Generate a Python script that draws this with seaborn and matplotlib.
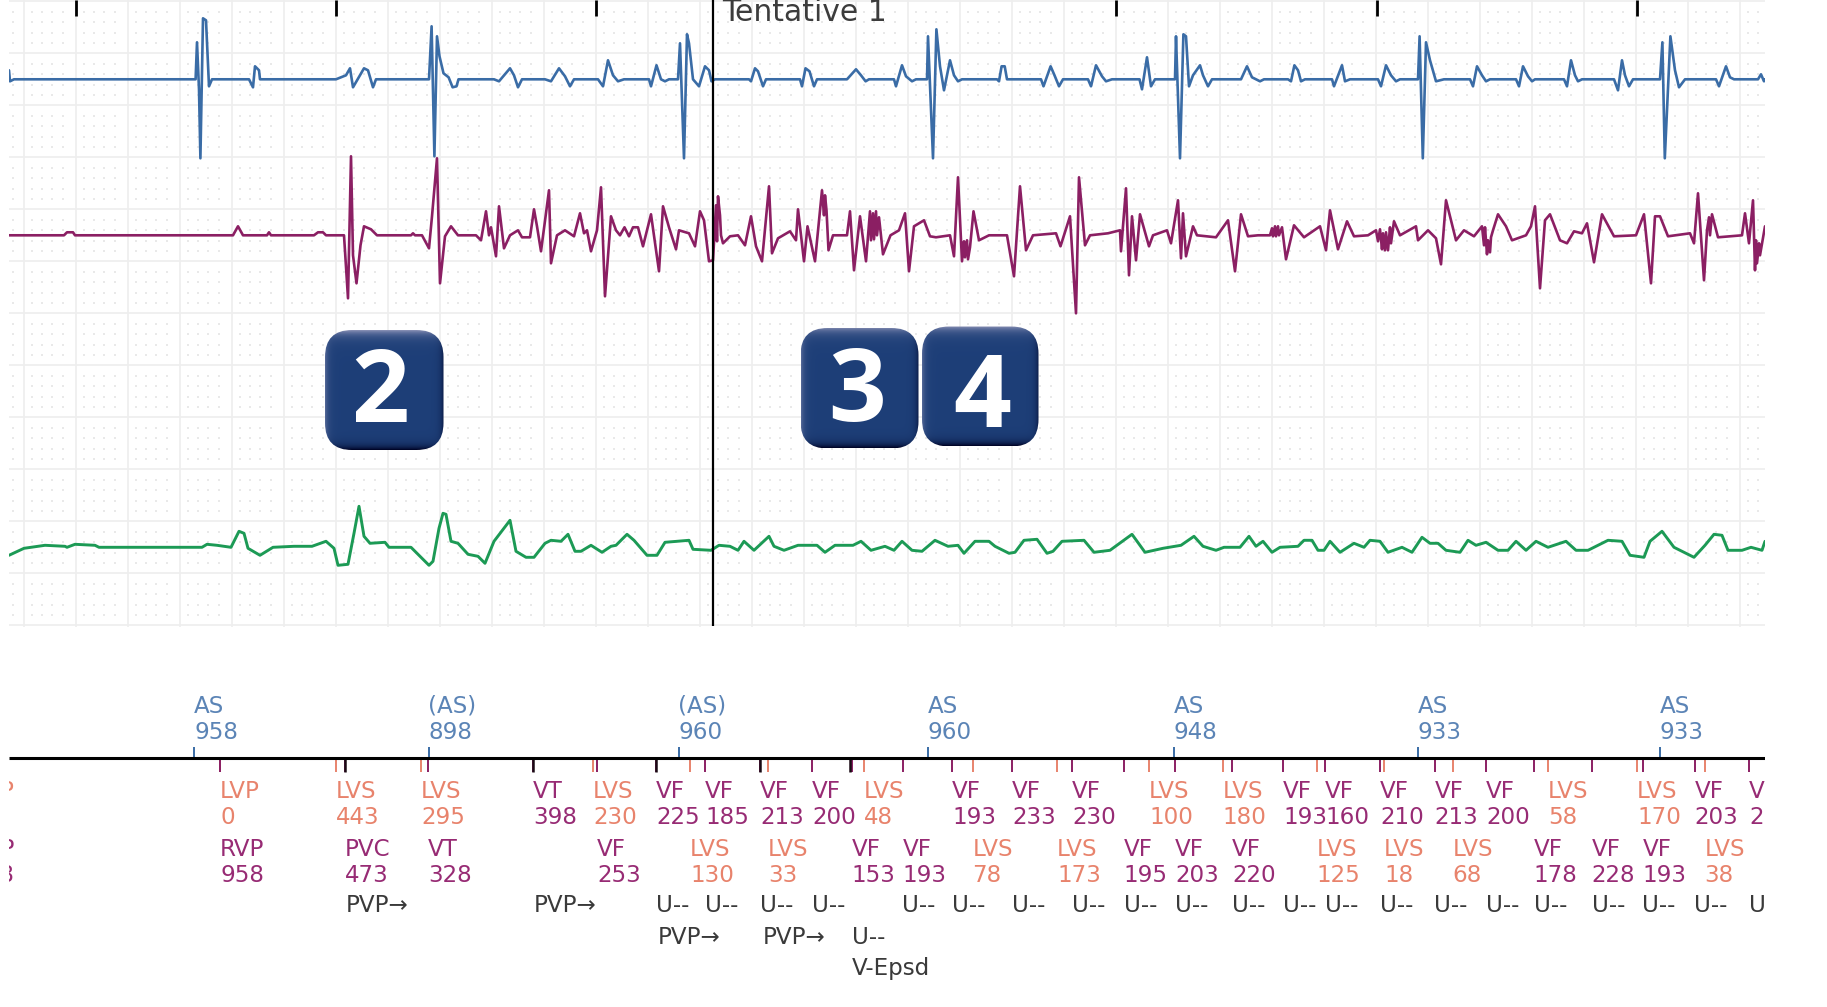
"""Device EGM strip with marker channel annotations."""

import matplotlib.pyplot as plt
import numpy as np
import pandas as pd
import seaborn as sns
from matplotlib.patches import FancyBboxPatch

# x values are samples along the strip, trace values are deflection from baseline
blue_trace = [
    (9, 9), (10, -2), (14, 0), (195.6, 0), (197, 37), (199, -10), (200.4, -79), (203, 61), (206, 59), (209, -7), (212, 0),
    (249, 0), (253, -8), (255, 13), (259, 9), (260, 0), (336, 0), (346, 4), (350, 11), (353, -8), (364, 11), (368, 9),
    (373, -8), (376, 0), (429, 0), (431.6, 53), (434.4, -77), (437, 43), (439.5, 23), (443.5, 6), (448.6, 2), (452.6, -8),
    (456.5, -7), (458.5, 0), (494, 0), (499, -2), (510, 11), (514, 4), (518, -8), (522, 0), (545, 0), (551, -2), (559, 11),
    (565, 3), (570, -7), (574, 0), (598, 0), (603, -7), (608, 19), (613, 4), (618, -2), (624, 0), (649, 0), (651, -7),
    (656.5, 14), (661, 0), (665, -2), (669, 0), (678, 0), (680, 36), (684, -79), (687, 45), (689, 36), (693, 0), (699, -7),
    (705, 13), (709, 9), (711.5, -2), (715, 0), (749, 0), (751, -2), (755, 11), (758, 8), (763, -7), (766, 0), (800, 0),
    (802, -7), (805.5, 11), (809.5, 8), (814, -7), (817, 0), (847, 0), (856, 10), (861, 4), (865.6, -2), (869, 0), (894, 0),
    (896, -7), (902, 14), (906, 3), (912, -2), (916, 0), (927, 0), (928, 43), (933, -79), (936.4, 50), (940, 13), (944, -11),
    (950, 19), (954, 4), (958, -2), (962, 0), (997, 0), (999, -2), (1001.6, 13), (1004.7, 13), (1007, 0), (1041, 0),
    (1043.5, -7), (1050.6, 13), (1054.5, 4), (1059, -7), (1063, 0), (1088, 0), (1091, -7), (1096, 14), (1102, 3), (1106, -2),
    (1112, 0), (1139.5, 0), (1142, -10), (1147, 22), (1151, -7), (1155, 0), (1175, 0), (1176, 43), (1180, -79), (1183.4, 45),
    (1186, 43), (1189, -7), (1193, 4), (1200, 14), (1203, 4), (1208, -7), (1212, 0), (1241, 0), (1247, 13), (1252, 2),
    (1260, -2), (1264, 0), (1288, 0), (1291, -2), (1294.4, 14), (1298, 9), (1301, -2), (1305, 0), (1332, 0), (1334, -7),
    (1342, 14), (1345, -2), (1350, 0), (1378, 0), (1381, -7), (1386, 14), (1391, 4), (1396, -2), (1400, 0), (1418, 0),
    (1419.6, 43), (1422.8, -79), (1426, 37), (1430, 19), (1436, -2), (1444, 0), (1470, 0), (1473, -7), (1477, 13), (1482, 4),
    (1486, -2), (1490, 0), (1516, 0), (1519, -7), (1523, 13), (1528, 3), (1532, -2), (1535, 0), (1564, 0), (1567, -7),
    (1571, 19), (1575, 4), (1578, -2), (1582, 0), (1614, 0), (1618, -11), (1622, 19), (1625, 4), (1629, -7), (1633, 0),
    (1660, 0), (1662.4, 37), (1664.8, -79), (1670.4, 43), (1675, 9), (1679, -8), (1685, 0), (1716, 0), (1719, -7), (1726, 13),
    (1730, 2), (1734, 0), (1758, 0), (1761, 5), (1764, -2), (1765, 0),
]
maroon_trace = [
    (9, 0), (64, 0), (67, 3), (73, 3), (75, 0), (233, 0), (238, 9), (243, 0), (267, 0), (269, 3), (271, 0), (314, 0), (318, 3),
    (323, 3), (326, 0), (344, 0), (348, -63), (351, 79), (353, -20), (356.5, -48), (360.5, -10), (364, 9), (371, 6), (377, 0),
    (411, 0), (413, 2), (415, 0), (422, 0), (429, -13), (432, 19), (437, 77), (440, -48), (445, -1), (451, 9), (458, 0),
    (476, 0), (481, -5), (486, 24), (489, 0), (491, 8), (496, -21), (499, 29), (504, -13), (510, 0), (518, 5), (522, -2),
    (530, -2), (534, 26), (537, 9), (541, -16), (549, 45), (551, -28), (557, 0), (565, 5), (574, -1), (580, 22), (584, 2),
    (587, 5), (591, -16), (597, 5), (601, 48), (605, -61), (611, 19), (616, 5), (620, 0), (624.5, 8), (629, -1), (633, 8),
    (638, 8), (643, -11), (651, 21), (659, -36), (663, 29), (669, 8), (676, -14), (679, 5), (689, 2), (695, -11), (700, 24),
    (704, 15), (709, -26), (713, -25), (716, 30), (717, -6), (718, 39), (720, 20), (721, 0), (723, -8), (730, -1), (738, 0),
    (745, -10), (751, 19), (756, -11), (762, -26), (769, 49), (772, -18), (778, -3), (790, 4), (796, -5), (798, 26), (804, -26),
    (807.5, 9), (815, -26), (822, 45), (824, 20), (825, 40), (826.5, 25), (828.5, -15),
    (833, 0), (847, 0), (850, 24), (854, -35), (860, 19), (866, -26), (870, 24), (871, -5), (873, 22), (874, -4), (876, 24),
    (877, 0), (879, 18), (883, -19), (890.5, 0), (899, 5),
    (905, 22), (909, -36), (914, 9), (924, 15), (930, -1), (936, -2), (950, 0), (954, -21), (958, 58), (962, -26), (964, -6),
    (965, -22), (967, -5), (968, -24), (970, -12),
    (973.5, 24), (979, -5), (989, 0), (1007, 0), (1014, -41), (1020, 49), (1026, -15), (1033, 0), (1056, 2), (1060.5, -11),
    (1070, 19), (1076, -78), (1079, 58), (1085, -10), (1090, 0), (1108, 2), (1120, 5), (1121, -16), (1126, 47), (1129, -40),
    (1132, 19), (1136, -25), (1140, 21), (1149, -11), (1153, 0), (1167, 5), (1171, -8), (1178, 35), (1181, -23), (1183, 22),
    (1186, -21), (1193, 9), (1197, 0), (1216, -2), (1228, 15), (1235, -36), (1241, 21), (1248, -1), (1258, 0), (1270, 0),
    (1272, 7), (1273, -1), (1275, 9), (1276, -1), (1278, 9), (1279, 0), (1282, 8), (1286, -24), (1294, 10), (1304, -2), (1320, 9),
    (1326, -15), (1330, 25), (1338, -14), (1347, 14),
    (1354, -1), (1368, 0), (1376, 5), (1378, -6), (1380, 6), (1382, -14), (1383, 2), (1385, -15), (1386, 3), (1388, -15),
    (1390, 8), (1391, -8), (1394, 14), (1400, 0), (1416, 9), (1418, -5), (1428, 5),
    (1436, -3), (1441, -29), (1446, 35), (1456, -5), (1464, 5), (1474, -1), (1482, 9), (1484, -10), (1485, 8), (1487, -19),
    (1488, -5), (1490, -17), (1491, -2), (1493, 5), (1498, 21), (1506, 9),
    (1512, -5), (1526, 0), (1531, 9), (1535, 29), (1540, -53), (1545, 15), (1550, 21), (1560, -5), (1567, -8), (1574, 4),
    (1582, 2), (1587, 12), (1594, -27), (1602, 21), (1614, -1), (1636, 0), (1644, 21), (1651, -48), (1655, 19), (1660, 19),
    (1668, -1), (1690, 2), (1694, -8), (1698, 42), (1704, -45), (1707, 5), (1709, 18), (1710, 0), (1712, 21), (1718, -2),
    (1742, 0), (1745, 22), (1749, -8),
    (1753, 35), (1755, -35), (1756, -5), (1757, -28), (1759, -8), (1760, -20), (1765, 9),
]
green_trace = [
    (9, -8), (24, -1), (45, 2), (65, 1), (67, 0), (75, 3), (95, 2), (99, 0), (202, 0), (207, 3), (217, 2), (231, 0), (239, 16),
    (244, 14), (248, -1), (260, -8), (273, 0), (294, 1), (312, 1), (326, 6), (334, -1), (338, -18), (348, -17), (354, 14),
    (359, 41), (364, 11), (370, 4), (385, 5), (389, 0), (411, 0), (429, -18), (433, -14), (439, 19), (443, 34), (446, 33),
    (451, 6), (458, 4), (468, -7), (478, -9), (485, -16), (494, 6), (510, 27), (516, -4), (526, -10), (534, -10), (545, 4),
    (551, 7), (561, 6), (568, 13), (575, -4), (581, -4), (591, 2), (602, -5), (611, 1), (616, 2), (627, 13), (634, 7),
    (647, -8), (657, -8), (665, 5), (689, 7), (693, -2), (711, -3), (719, 2), (730, 1), (738, -3), (744, 6), (754, -3),
    (769, 11), (774, 1), (784, -3), (798, 2), (817, 2), (825, -5), (835, 2), (853, 2), (861, 6), (871, -3), (885, 1), (894, -3),
    (902, 6), (912, -3), (922, -4), (935, 7), (948, 1), (958, 2), (964, -6), (975, 6), (989, 6), (995, 1), (1009, -6), (1015, -5),
    (1024, 7), (1037, 8), (1047, -6), (1053, -4), (1062, 6), (1084, 7), (1094, -5), (1110, -3), (1132, 13), (1145, -5), (1163, -1),
    (1181, 2), (1194, 11), (1203, 1), (1216, -3), (1224, 0), (1240, 0), (1249, 11), (1256, 1), (1263, 6), (1272, -5), (1280, 0),
    (1298, 1), (1304, 7), (1312, 7), (1318, -3), (1324, -3), (1330, 6), (1340, -5), (1354, 4), (1364, 0), (1370, 7), (1380, 6),
    (1388, -5), (1402, 0), (1412, -5), (1422, 10), (1430, 4), (1438, 4), (1446, -3), (1460, -5), (1468, 7), (1476, 2), (1486, 5),
    (1498, -3), (1508, -3), (1516, 6), (1526, -3), (1536, 6), (1548, 0), (1566, 6), (1576, -3), (1588, -3), (1608, 7), (1622, 6),
    (1630, -8), (1644, -10), (1650, 6), (1662, 16), (1674, 0), (1694, -10), (1705, 2), (1714, 13), (1722, 12), (1728, -3),
    (1742, -3), (1751, 0), (1762, -3), (1765, 6),
]

atrial_x = [194, 428.5, 678.5, 927.5, 1173.5, 1417.5, 1659.5]
atrial_names = ["AS", "(AS)", "(AS)", "AS", "AS", "AS", "AS"]
atrial_vals = [958, 898, 960, 960, 948, 933, 933]

row1_x = [-25, 220, 336, 421, 533, 593, 656, 705, 760, 812, 864, 952, 1012, 1072, 1149, 1222.5, 1283, 1325, 1380, 1434.5, 1486, 1548, 1637, 1694.5, 1749]
row1_names = ["LVP", "LVP", "LVS", "LVS", "VT", "LVS", "VF", "VF", "VF", "VF", "LVS", "VF", "VF", "VF", "LVS", "LVS", "VF", "VF", "VF", "VF", "VF", "LVS", "LVS", "VF", "VF"]
row1_vals = [0, 0, 443, 295, 398, 230, 225, 185, 213, 200, 48, 193, 233, 230, 100, 180, 193, 160, 210, 213, 200, 58, 170, 203, 213]

row2_x = [-29, 220, 344.5, 428, 597, 690, 768, 851.5, 902.5, 972.5, 1057, 1123.5, 1175, 1232, 1316.5, 1384, 1452.5, 1533.5, 1591.5, 1642.5, 1704.5]
row2_names = ["RVP", "RVP", "PVC", "VT", "VF", "LVS", "LVS", "VF", "VF", "LVS", "LVS", "VF", "VF", "VF", "LVS", "LVS", "LVS", "VF", "VF", "VF", "LVS"]
row2_vals = [958, 958, 473, 328, 253, 130, 33, 153, 193, 78, 173, 195, 203, 220, 125, 18, 68, 178, 228, 193, 38]

row3_x = [345.5, 534, 656, 705, 760, 812, 902.5, 952, 1012, 1072, 1123.5, 1175, 1232, 1283, 1325, 1380, 1434.5, 1486, 1534, 1592, 1642.5, 1694.5, 1749]
row3_text = ["PVP→", "PVP→", "U--", "U--", "U--", "U--", "U--", "U--", "U--", "U--", "U--", "U--", "U--", "U--", "U--", "U--", "U--", "U--", "U--", "U--", "U--", "U--", "U--"]
row4_x = [658, 763, 852]
row4_text = ["PVP→", "PVP→", "U--"]
row5_x = [852]
row5_text = ["V-Epsd"]

BLUE, MAROON, GREEN = "#3a6ca6", "#8b1f63", "#1c9a55"
MAROON_TEXT, SALMON, GREY = "#972b74", "#e8836c", "#3a3a3a"
BADGES = [("2", 325, 443.5, 330, 450, 422.3, 380), ("3", 800.5, 918.5, 328, 448.5, 421, 857), ("4", 922, 1038.5, 326.5, 446.5, 426.7, 982)]

sns.set_theme(style="white")
plt.rcParams["font.family"] = ["DejaVu Sans"]

W, H = 1827, 1007
fig = plt.figure(figsize=(W / 100, H / 100), dpi=100, facecolor="white")
strip = fig.add_axes([9 / W, 1 - 627 / H, (1765 - 9) / W, 627 / H])
events = fig.add_axes([9 / W, 0, (1765 - 9) / W, (H - 640) / H])


def trace_frame(points, baseline):
    df = pd.DataFrame(points, columns=["sample", "amp"])
    df["y"] = baseline - df["amp"]
    return df


# ── ECG paper ─────────────────────────────────────────────────────────────────
major_x = 23.7 + 52 * np.arange(34)
major_y = 1.3 + 52 * np.arange(13)
strip.set_xticks(major_x)
strip.set_yticks(major_y)
strip.grid(True, color="#eeeeee", linewidth=1.2)
strip.tick_params(length=0, labelbottom=False, labelleft=False)
sns.despine(ax=strip, left=True, bottom=True)
sns.despine(ax=events, left=True, bottom=True)

dx = (major_x[:, None] + np.array([8, 18.3, 28.6, 38.9])).ravel()
dx = np.concatenate([dx, [13]])
dy = (major_y[:-1, None] + np.array([10.4, 20.8, 31.2, 41.6])).ravel()
gx, gy = np.meshgrid(dx, dy)
strip.scatter(gx.ravel(), gy.ravel(), s=3.6, marker="s", color="#e9e9e9", linewidths=0, zorder=1)

# ── Traces ────────────────────────────────────────────────────────────────────
for points, baseline, color, lw in [(blue_trace, 79.3, BLUE, 1.9), (maroon_trace, 235.3, MAROON, 1.9), (green_trace, 547.3, GREEN, 2.1)]:
    sns.lineplot(data=trace_frame(points, baseline), x="sample", y="y", estimator=None, sort=False,
                 color=color, linewidth=lw, ax=strip, zorder=3)
strip.set(xlabel="", ylabel="")

strip.vlines(712.6, 0, 625.5, color="black", linewidth=1.6, zorder=4)
strip.vlines([75.7, 335.7, 595.7, 1115.7, 1376.7, 1636.7], 0, 16, color="black", linewidth=2, zorder=4)
strip.text(722.5, 21, "Tentative 1", fontsize=21.5, color="#3c3c3c", va="baseline", clip_on=True, zorder=4)


# ── Number badges ─────────────────────────────────────────────────────────────
def add_badge(ax, label, x0, x1, y0, y1, baseline, xc):
    w, h = int(x1 - x0), int(y1 - y0)
    yy, xx = np.mgrid[0:h, 0:w]
    base = np.array([0.115, 0.245, 0.47])
    light = np.array([0.52, 0.55, 0.70])
    dark = np.array([0.0, 0.02, 0.16])
    img = np.ones((h, w, 3)) * base
    top = np.exp(-yy / 5.0)[..., None]
    bottom = np.exp(-(h - 1 - yy) / 4.0)[..., None]
    left = 0.5 * np.exp(-xx / 3.0)[..., None]
    right = 0.6 * np.exp(-(w - 1 - xx) / 3.0)[..., None]
    img = img * (1 - left) + light * left
    img = img * (1 - right) + dark * right
    img = img * (1 - top) + light * top
    img = img * (1 - bottom) + dark * bottom
    r = 27
    patch = FancyBboxPatch((x0 + r, y0 + r), x1 - x0 - 2 * r, y1 - y0 - 2 * r,
                           boxstyle=f"round,pad={r}", transform=ax.transData, facecolor="none", edgecolor="none")
    ax.add_patch(patch)
    im = ax.imshow(img, extent=(x0, x1, y1, y0), aspect="auto", zorder=6)
    im.set_clip_path(patch)
    ax.text(xc, baseline, label, color="white", family="Open Sans", weight="bold",
            fontsize=73, ha="center", va="baseline", zorder=7)


for label, x0, x1, y0, y1, baseline, xc in BADGES:
    add_badge(strip, label, x0, x1, y0, y1, baseline, xc)
strip.set_xlim(9, 1765)
strip.set_ylim(627, 0)

# ── Marker channel ────────────────────────────────────────────────────────────
events.set_xlim(9, 1765)
events.set_ylim(1007, 640)
events.set_xticks([])
events.set_yticks([])
events.hlines(758.3, 9, 1765, color="black", linewidth=2.2, zorder=3)


def kind_color(name):
    return SALMON if name in ("LVS", "LVP") else MAROON_TEXT


events.vlines(atrial_x, 746.5, 758.3, color=BLUE, linewidth=1.4)
for x, name, val in zip(atrial_x, atrial_names, atrial_vals):
    events.text(x, 712.7, name, fontsize=16.6, color="#5b84b6", va="baseline", clip_on=True)
    events.text(x, 738.7, str(val), fontsize=16.6, color="#5b84b6", va="baseline", clip_on=True)

for row_x, row_names, row_vals, y_name, y_val in [(row1_x, row1_names, row1_vals, 798.3, 824.3),
                                                  (row2_x, row2_names, row2_vals, 855.7, 881.7)]:
    for x, name, val in zip(row_x, row_names, row_vals):
        c = kind_color(name)
        events.vlines(x, 758.3, 771.7, color=SALMON if c == SALMON else MAROON, linewidth=1.4)
        events.text(x, y_name, name, fontsize=16.6, color=c, va="baseline", clip_on=True)
        events.text(x, y_val, str(val), fontsize=16.6, color=c, va="baseline", clip_on=True)

events.vlines([344.5, 533, 656, 760, 850], 758.3, 771.7, color="#1a0a14", linewidth=1.8)

for row_x, row_text, y_text in [(row3_x, row3_text, 912.3), (row4_x, row4_text, 944.3), (row5_x, row5_text, 975)]:
    for x, text in zip(row_x, row_text):
        events.text(x, y_text, text, fontsize=16.6, color=GREY, va="baseline", clip_on=True)

fig.savefig("out.png", dpi=100)
